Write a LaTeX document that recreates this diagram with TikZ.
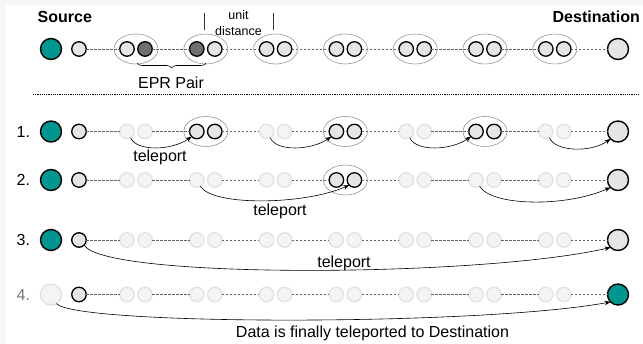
\documentclass[tikz,border=0pt]{standalone}
\usepackage{fontspec}
\setmainfont{Liberation Sans}
\usetikzlibrary{arrows.meta,shapes.geometric,decorations.pathreplacing}

\definecolor{tealq}{RGB}{0,150,143}
\definecolor{qgrey}{RGB}{229,229,229}
\definecolor{qdark}{RGB}{112,112,112}
\definecolor{ghostfill}{RGB}{244,244,244}
\definecolor{ghostline}{RGB}{226,226,226}
\definecolor{linkgrey}{RGB}{100,100,100}
\definecolor{ringgrey}{RGB}{150,150,150}
\definecolor{margin}{RGB}{246,246,246}
\definecolor{numgrey}{RGB}{120,120,120}

\tikzset{
  qubit/.style={circle, inner sep=0pt, outer sep=0pt, minimum size=14.5pt, line width=1.3pt},
  bigq/.style={circle, inner sep=0pt, outer sep=0pt, minimum size=21pt, line width=1.4pt},
  qs/.style={#1},
  act/.style={fill=qgrey, draw=black},
  epr/.style={fill=qdark, draw=black},
  ghost/.style={fill=ghostfill, draw=ghostline},
  data/.style={fill=tealq, draw=black},
  ring/.style={ellipse, draw=ringgrey, line width=0.6pt, minimum width=44pt,
               minimum height=30pt, inner sep=0pt},
  link/.style={draw=linkgrey, line width=0.6pt, dash pattern=on 2.4pt off 1.6pt},
  tele/.style={draw=black, line width=0.6pt, -{Stealth[length=6pt,width=4.5pt]}},
  lbl/.style={font=\fontsize{16}{18}\selectfont, inner sep=0pt},
  title/.style={font=\fontsize{16}{18}\selectfont\bfseries, inner sep=0pt},
  small text/.style={font=\fontsize{12.5}{16}\selectfont, inner sep=0pt, align=center},
}

% One chain: source, its neighbour qubit, seven qubit pairs and the destination.
% #1 name prefix, #2 y, #3 source style, #4 destination style, #5 pair styles i/a/b
\newcommand\qchain[5]{%
  \node[bigq,qs/.expanded=#3] (#1s) at (51,#2) {};
  \node[qubit,act] (#1q) at (79,#2) {};
  \foreach \i/\sa/\sb in {#5}{%
    \pgfmathsetmacro\xa{127+69.8*(\i-1)}%
    \node[qubit,qs/.expanded=\sa] (#1a\i) at (\xa,#2) {};
    \node[qubit,qs/.expanded=\sb] (#1b\i) at (\xa+18,#2) {};
  }
  \node[bigq,qs/.expanded=#4] (#1d) at (618,#2) {};
  \draw[link] (#1q) -- (#1a1);
  \foreach \i in {1,...,6}{%
    \pgfmathtruncatemacro\j{\i+1}%
    \draw[link] (#1b\i) -- (#1a\j);
  }
  \draw[link] (#1b7) -- (#1d);
}
% ellipse round pair #2 of chain #1
\newcommand\qring[2]{%
  \path (#1a#2) -- (#1b#2) node[midway,ring] (#1r#2) {};
}

\begin{document}
\begin{tikzpicture}[x=1pt,y=-1pt]
  \useasboundingbox (0,0) rectangle (643,344);
  \fill[margin] (0,0) rectangle (643,344);
  \fill[white] (6,5) rectangle (643,344);

  % headings
  \node[title, anchor=west] (src) at (37.5,17) {Source};
  \node[title, anchor=east] (dst) at (640,17) {Destination};

  % chain with all pairs shared
  \qchain{r0}{49}{data}{act}{1/act/epr,2/epr/act,3/act/act,4/act/act,5/act/act,6/act/act,7/act/act}
  \foreach \k in {1,...,7}{\qring{r0}{\k}}

  % unit distance marker
  \coordinate (u1t) at (204,13); \coordinate (u1b) at (204,30);
  \coordinate (u2t) at (273,13); \coordinate (u2b) at (273,30);
  \draw[line width=0.7pt, draw=black!80] (u1t) -- (u1b);
  \draw[line width=0.7pt, draw=black!80] (u2t) -- (u2b);
  \node[small text] (unit) at (238.5,23.5) {unit\\distance};

  % EPR pair brace
  \coordinate (bl) at (137,63);
  \coordinate (br) at (206,63);
  \draw[decorate, decoration={brace, mirror, amplitude=5pt}, line width=0.6pt] (bl) -- (br);
  \node[lbl] (eprlbl) at (171,82.5) {EPR Pair};

  % separator
  \coordinate (sepl) at (33,94.5);
  \coordinate (sepr) at (640,94.5);
  \draw[line width=1.8pt, dash pattern=on 1.1pt off 1.1pt] (sepl) -- (sepr);

  % step 1
  \node[lbl, anchor=west] (n1) at (16.5,131.5) {1.};
  \qchain{r1}{131.5}{data}{act}{1/ghost/ghost,2/act/act,3/ghost/ghost,4/act/act,5/ghost/ghost,6/act/act,7/ghost/ghost}
  \qring{r1}{2}\qring{r1}{4}\qring{r1}{6}
  \draw[tele] (r1a1.-60) .. controls +(6,14) and +(-20,14) .. (r1a2.-135);
  \draw[tele] (r1a3.-60) .. controls +(6,14) and +(-20,14) .. (r1a4.-135);
  \draw[tele] (r1a5.-60) .. controls +(6,14) and +(-20,14) .. (r1a6.-135);
  \draw[tele] (r1a7.-60) .. controls +(6,14) and +(-20,14) .. (r1d.-135);
  \node[lbl] (t1) at (160,157) {teleport};

  % step 2
  \node[lbl, anchor=west] (n2) at (16.5,180) {2.};
  \qchain{r2}{180}{data}{act}{1/ghost/ghost,2/ghost/ghost,3/ghost/ghost,4/act/act,5/ghost/ghost,6/ghost/ghost,7/ghost/ghost}
  \qring{r2}{4}
  \draw[tele] (r2a2.-60) .. controls +(12,20) and +(-45,20) .. (r2b4.-135);
  \draw[tele] (r2a6.-60) .. controls +(12,20) and +(-45,20) .. (r2d.-135);
  \node[lbl] (t2) at (280,211) {teleport};

  % step 3
  \node[lbl, anchor=west] (n3) at (16.5,240) {3.};
  \qchain{r3}{240}{data}{act}{1/ghost/ghost,2/ghost/ghost,3/ghost/ghost,4/ghost/ghost,5/ghost/ghost,6/ghost/ghost,7/ghost/ghost}
  \draw[tele] (r3q.-45) .. controls +(20,34) and +(-130,30) .. (r3d.-135);
  \node[lbl] (t3) at (344,263) {teleport};

  % step 4
  \node[lbl, anchor=west, text=numgrey] (n4) at (16.5,294.5) {4.};
  \qchain{r4}{294.5}{ghost}{data}{1/ghost/ghost,2/ghost/ghost,3/ghost/ghost,4/ghost/ghost,5/ghost/ghost,6/ghost/ghost,7/ghost/ghost}
  \draw[tele] (r4s.-60) .. controls +(20,22) and +(-130,24) .. (r4d.-135);
  \node[lbl] (t4) at (372.5,333) {Data is finally teleported to Destination};
\end{tikzpicture}
\end{document}
